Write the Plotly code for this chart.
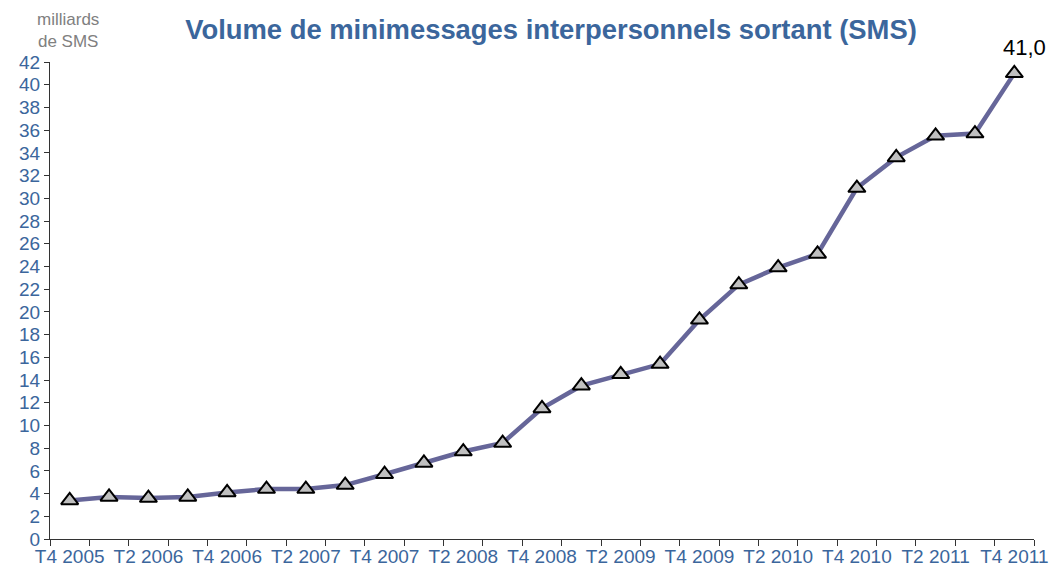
import plotly.graph_objects as go

# Trimestres (T4 2005 -> T4 2011)
trimestres = ["T4 2005", "T1 2006", "T2 2006", "T3 2006", "T4 2006", "T1 2007", "T2 2007",
              "T3 2007", "T4 2007", "T1 2008", "T2 2008", "T3 2008", "T4 2008", "T1 2009",
              "T2 2009", "T3 2009", "T4 2009", "T1 2010", "T2 2010", "T3 2010", "T4 2010",
              "T1 2011", "T2 2011", "T3 2011", "T4 2011"]

# Volume de SMS (milliards)
volumes = [3.4, 3.7, 3.6, 3.7, 4.1, 4.4, 4.4, 4.75, 5.7, 6.7, 7.7, 8.45, 11.5, 13.5,
           14.5, 15.4, 19.3, 22.4, 23.9, 25.1, 30.9, 33.6, 35.5, 35.7, 41.0]

y_ticks = list(range(0, 43, 2))

x_idx = list(range(len(trimestres)))
bleu = "#3B669C"
police = "Liberation Sans, Arial, sans-serif"

fig = go.Figure()

fig.add_trace(go.Scatter(
    x=x_idx, y=volumes,
    mode="lines+markers",
    line=dict(color="#666699", width=4.5),
    marker=dict(symbol="triangle-up", size=15, color="#C0C0C0",
                line=dict(color="black", width=2)),
    hoverinfo="skip",
    cliponaxis=False,
))

# Étiquette de la dernière valeur
fig.add_annotation(
    x=x_idx[-1], y=volumes[-1],
    text=f"{volumes[-1]:.1f}".replace(".", ","),
    showarrow=False, yanchor="bottom", yshift=11, xshift=10,
    font=dict(family=police, size=22, color="black"),
)

# Unité en haut à gauche
fig.add_annotation(
    text="milliards<br>de SMS", xref="paper", yref="paper",
    x=0.0183, y=1.0, xanchor="center", yanchor="bottom", yshift=9,
    showarrow=False, align="center",
    font=dict(family=police, size=17, color="#808080"),
)

# la page ajoute 8px de marge autour : figure réduite pour tenir dans la fenêtre
fig.update_layout(
    width=1043, height=561,
    paper_bgcolor="white", plot_bgcolor="white",
    showlegend=False,
    margin=dict(l=42, r=17, t=54, b=30, autoexpand=False),
    title=dict(
        text="<b>Volume de minimessages interpersonnels sortant (SMS)</b>",
        x=0.5206, xanchor="center", y=0.961, yanchor="middle",
        font=dict(family=police, size=27.4, color=bleu),
    ),
    xaxis=dict(
        range=[-0.5, len(trimestres) - 0.5],
        tickmode="array",
        tickvals=x_idx[::2],
        ticktext=trimestres[::2],
        ticks="", showgrid=False, zeroline=False,
        showline=True, linecolor="#333333", linewidth=1,
        tickfont=dict(family=police, size=19, color=bleu),
        minor=dict(tickmode="linear", tick0=-0.5, dtick=1, ticks="outside",
                   ticklen=6, tickcolor="#333333", tickwidth=1, showgrid=False),
        automargin=False,
        fixedrange=True,
    ),
    yaxis=dict(
        range=[0, 42],
        tickmode="array", tickvals=y_ticks,
        ticks="outside", ticklen=5, tickcolor="#333333",
        showgrid=False, zeroline=False,
        showline=True, linecolor="#333333", linewidth=1,
        tickfont=dict(family=police, size=19, color=bleu),
        automargin=False,
        fixedrange=True,
    ),
)

fig.write_html("out.html")
